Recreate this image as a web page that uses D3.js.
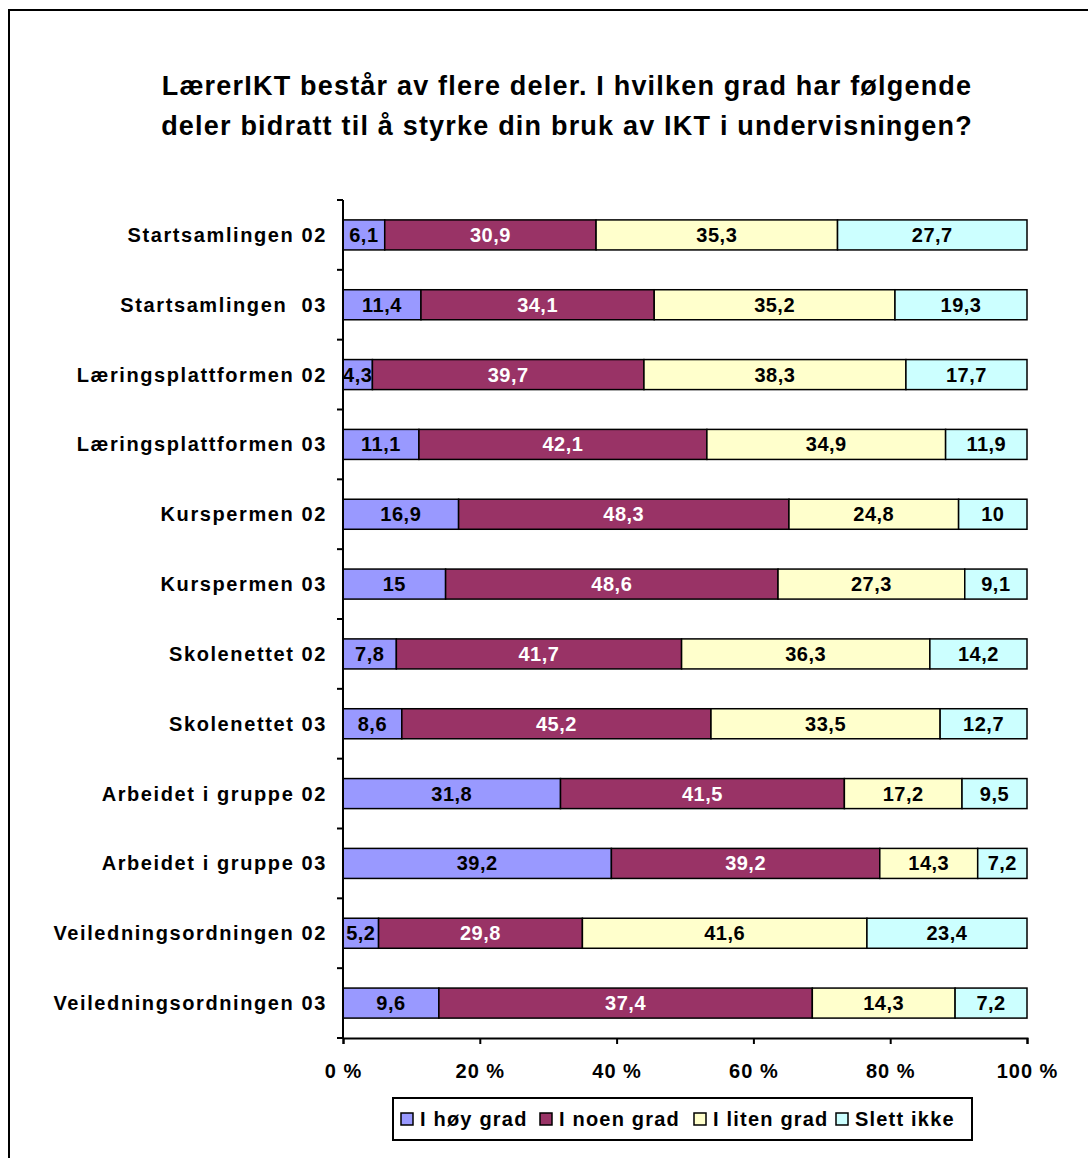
<!DOCTYPE html>
<html>
<head>
<meta charset="utf-8">
<script src="https://cdn.jsdelivr.net/npm/d3@7"></script>
<style>
  body { margin: 0; background: #fff; }
  svg text { font-family: "Liberation Sans", Arial, sans-serif; font-weight: bold; }
</style>
</head>
<body>
<div id="chart"></div>
<script>
// data
var categories = [
  "Startsamlingen 02", "Startsamlingen  03",
  "Læringsplattformen 02", "Læringsplattformen 03",
  "Kurspermen 02", "Kurspermen 03",
  "Skolenettet 02", "Skolenettet 03",
  "Arbeidet i gruppe 02", "Arbeidet i gruppe 03",
  "Veiledningsordningen 02", "Veiledningsordningen 03"
];
var seriesNames = ["I høy grad", "I noen grad", "I liten grad", "Slett ikke"];
var hoyGrad   = [6.1, 11.4, 4.3, 11.1, 16.9, 15, 7.8, 8.6, 31.8, 39.2, 5.2, 9.6];
var noenGrad  = [30.9, 34.1, 39.7, 42.1, 48.3, 48.6, 41.7, 45.2, 41.5, 39.2, 29.8, 37.4];
var litenGrad = [35.3, 35.2, 38.3, 34.9, 24.8, 27.3, 36.3, 33.5, 17.2, 14.3, 41.6, 14.3];
var slettIkke = [27.7, 19.3, 17.7, 11.9, 10, 9.1, 14.2, 12.7, 9.5, 7.2, 23.4, 7.2];
var xTicks = [0, 0.2, 0.4, 0.6, 0.8, 1];

var colors = ["#9999FF", "#993366", "#FFFFCC", "#CCFFFF"];
var labelColors = ["#000", "#fff", "#000", "#000"];

var width = 1088, height = 1158;
var margin = {left: 343, right: 61, top: 200, bottom: 120};

var table = categories.map(function(c, i) {
  var row = {cat: c};
  row[seriesNames[0]] = hoyGrad[i];
  row[seriesNames[1]] = noenGrad[i];
  row[seriesNames[2]] = litenGrad[i];
  row[seriesNames[3]] = slettIkke[i];
  return row;
});

var stacked = d3.stack().keys(seriesNames).offset(d3.stackOffsetExpand)(table);

var svg = d3.select("#chart").append("svg")
    .attr("width", width)
    .attr("height", height);

// outer frame
svg.append("rect")
  .attr("x", 9).attr("y", 10)
  .attr("width", 1100).attr("height", 1200)
  .style("fill", "none").style("stroke", "#000").style("stroke-width", 2);

// title
var titleLines = ["LærerIKT består av flere deler. I hvilken grad har følgende",
                  "deler bidratt til å styrke din bruk av IKT i undervisningen?"];
svg.selectAll(".title")
  .data(titleLines)
  .enter().append("text")
  .attr("x", 567)
  .attr("y", function(d, i) { return 95 + i * 40; })
  .attr("text-anchor", "middle")
  .style("font-size", "27px")
  .style("letter-spacing", "1.2px")
  .text(function(d) { return d; });

var xScale = d3.scaleLinear()
    .domain([0, 1])
    .range([margin.left, width - margin.right]);

var yScale = d3.scaleBand()
    .domain(categories)
    .range([margin.top, height - margin.bottom])
    .paddingInner(0.57)
    .paddingOuter(0.285);

var bandStep = yScale.step();

// bars
var layers = svg.selectAll(".layer")
  .data(stacked)
  .enter().append("g")
  .attr("class", "layer");

layers.selectAll("rect")
  .data(function(d) { return d; })
  .enter().append("rect")
  .attr("x", function(d) { return xScale(d[0]); })
  .attr("y", function(d) { return yScale(d.data.cat); })
  .attr("width", function(d) { return xScale(d[1]) - xScale(d[0]); })
  .attr("height", yScale.bandwidth())
  .style("fill", function(d, i, nodes) { return colors[d3.select(nodes[i].parentNode).datum().index]; })
  .style("stroke", "#000")
  .style("stroke-width", 1.5);

layers.selectAll("text")
  .data(function(d) { return d.map(function(p) { return {p: p, key: d.key, idx: d.index}; }); })
  .enter().append("text")
  .attr("x", function(d) { return (xScale(d.p[0]) + xScale(d.p[1])) / 2; })
  .attr("y", function(d) { return yScale(d.p.data.cat) + yScale.bandwidth() / 2 + 7; })
  .attr("text-anchor", "middle")
  .style("font-size", "20px")
  .style("letter-spacing", "0.5px")
  .style("fill", function(d) { return labelColors[d.idx]; })
  .text(function(d) { return String(d.p.data[d.key]).replace(".", ","); });

// y axis
var yAxis = svg.append("g")
  .attr("transform", "translate(" + margin.left + ",0)");
yAxis.append("line")
  .attr("x1", 0).attr("x2", 0)
  .attr("y1", margin.top).attr("y2", height - margin.bottom)
  .style("stroke", "#000").style("stroke-width", 2);
yAxis.selectAll(".ytick")
  .data(d3.range(categories.length + 1))
  .enter().append("line")
  .attr("x1", -6).attr("x2", 0)
  .attr("y1", function(i) { return margin.top + i * bandStep; })
  .attr("y2", function(i) { return margin.top + i * bandStep; })
  .style("stroke", "#000").style("stroke-width", 2);
yAxis.selectAll(".ylab")
  .data(categories)
  .enter().append("text")
  .attr("x", -16)
  .attr("y", function(d) { return yScale(d) + yScale.bandwidth() / 2 + 7; })
  .attr("text-anchor", "end")
  .style("font-size", "20px")
  .style("letter-spacing", "1.6px")
  .style("white-space", "pre")
  .text(function(d) { return d; });

// x axis
var xAxis = d3.axisBottom(xScale)
  .tickValues(xTicks)
  .tickSize(6)
  .tickFormat(function(d) { return Math.round(d * 100) + " %"; });
var xg = svg.append("g")
  .attr("transform", "translate(0," + (height - margin.bottom) + ")")
  .call(xAxis);
xg.select(".domain").style("stroke", "#000").style("stroke-width", 2);
xg.selectAll(".tick line").style("stroke", "#000").style("stroke-width", 2);
xg.selectAll(".tick text")
  .attr("y", 26)
  .style("font-size", "20px")
  .style("letter-spacing", "1px")
  .style("font-family", "Liberation Sans, Arial, sans-serif")
  .style("font-weight", "bold")
  .style("fill", "#000");

// legend
var legend = svg.append("g");
legend.append("rect")
  .attr("x", 393).attr("y", 1098)
  .attr("width", 579).attr("height", 42)
  .style("fill", "#fff").style("stroke", "#000").style("stroke-width", 2);
var legendX = [401, 540, 694, 836];
var items = legend.selectAll(".item")
  .data(seriesNames)
  .enter().append("g")
  .attr("transform", function(d, i) { return "translate(" + legendX[i] + ",1119)"; });
items.append("rect")
  .attr("x", 0).attr("y", -6)
  .attr("width", 12).attr("height", 12)
  .style("fill", function(d, i) { return colors[i]; })
  .style("stroke", "#000").style("stroke-width", 1.5);
items.append("text")
  .attr("x", 19).attr("y", 7)
  .style("font-size", "20px")
  .style("letter-spacing", "1.2px")
  .text(function(d) { return d; });
</script>
</body>
</html>
